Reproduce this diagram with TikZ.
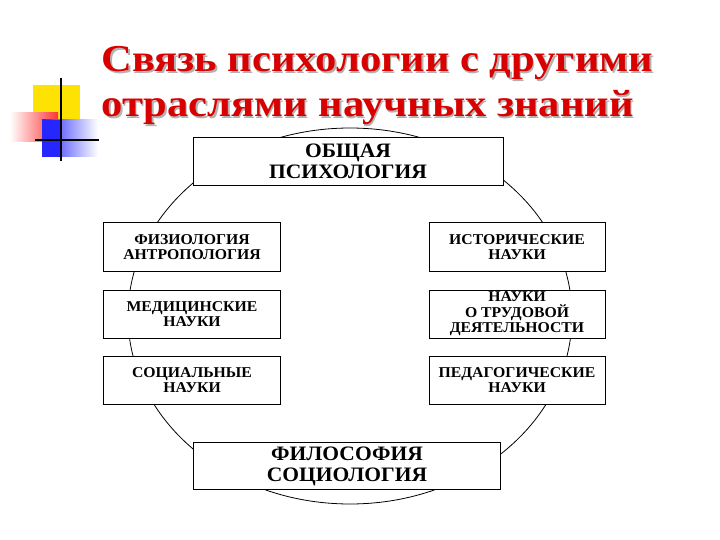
\documentclass[tikz,border=0pt]{standalone}
\usepackage{fontspec}
\setmainfont{Liberation Serif}
\newfontfamily\wideserif[FakeStretch=1.12]{Liberation Serif}
\newfontfamily\boxserif[FakeStretch=1.05]{Liberation Serif}
\begin{document}
\begin{tikzpicture}[x=1pt,y=-1pt,
  boxn/.style={draw,thick,fill=white,minimum width=#1,inner sep=0pt,align=center,font=\boxserif\bfseries\fontsize{15}{15.5}\selectfont},
  bigbox/.style={boxn=#1,font=\boxserif\bfseries\fontsize{20.5}{21}\selectfont},
  ttl/.style={anchor=base west,font=\wideserif\bfseries\fontsize{38}{40}\selectfont}]
\useasboundingbox (0,0) rectangle (720,540);
\fill[white] (0,0) rectangle (720,540);
% decoration
\fill[yellow!85!orange] (33,85) rectangle (80,122);
\shade[left color=white,right color=red!80] (10,113) rectangle (58,142);
\shade[left color=blue!85,right color=white] (42,120) rectangle (98,157);
\fill[blue!85] (42,120) rectangle (62,157);
\draw[line width=1.5pt] (61,78) -- (61,161);
\draw[line width=1.5pt] (35,140) -- (99,140);
% title
\foreach \dx/\c in {1.5/gray!60, 0/red!85!black}{
  \node[ttl,text=\c] at (98+\dx,72+\dx) {Связь психологии с другими};
  \node[ttl,text=\c] at (98+\dx,117+\dx) {отраслями научных знаний};
}
% ellipse
\draw[thick] (350,316) ellipse [x radius=222, y radius=188];
% boxes
\node[bigbox=310pt,minimum height=48pt] (top) at (348,161) {ОБЩАЯ\\ПСИХОЛОГИЯ};
\node[bigbox=307pt,minimum height=47pt] (bot) at (347,466) {ФИЛОСОФИЯ\\СОЦИОЛОГИЯ};
\node[boxn=177pt,minimum height=49pt] (l1) at (192,247) {ФИЗИОЛОГИЯ\\АНТРОПОЛОГИЯ};
\node[boxn=177pt,minimum height=48pt] (l2) at (192,314) {МЕДИЦИНСКИЕ\\НАУКИ};
\node[boxn=177pt,minimum height=48pt] (l3) at (192,380) {СОЦИАЛЬНЫЕ\\НАУКИ};
\node[boxn=176pt,minimum height=49pt] (r1) at (517,247) {ИСТОРИЧЕСКИЕ\\НАУКИ};
\node[boxn=176pt,minimum height=48pt] (r2) at (517,314) {НАУКИ\\О ТРУДОВОЙ\\ДЕЯТЕЛЬНОСТИ};
\node[boxn=176pt,minimum height=48pt] (r3) at (517,380) {ПЕДАГОГИЧЕСКИЕ\\НАУКИ};
\end{tikzpicture}
\end{document}
